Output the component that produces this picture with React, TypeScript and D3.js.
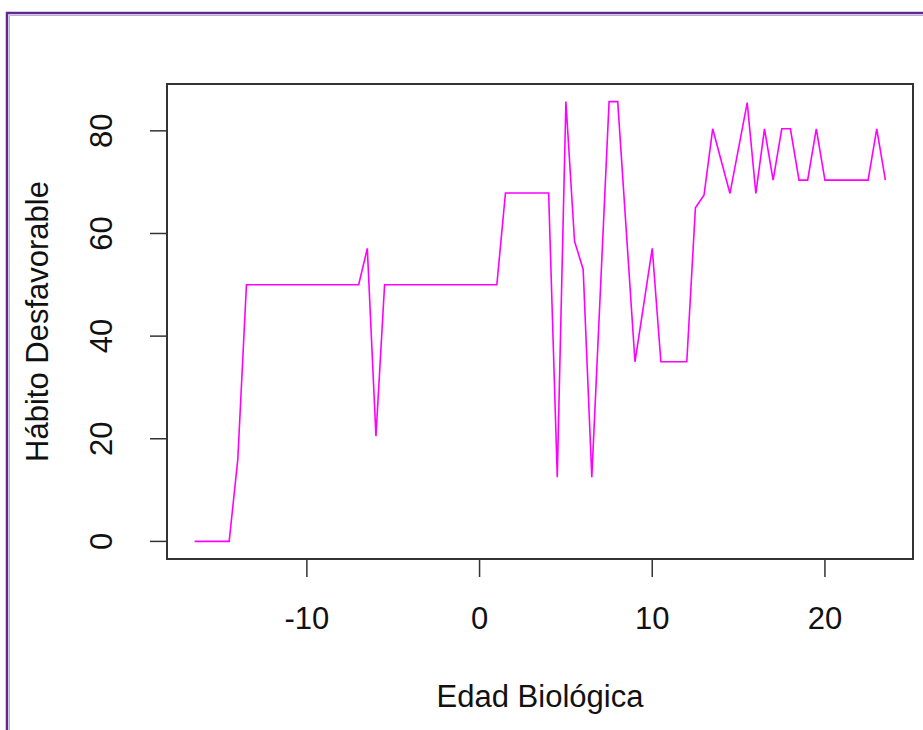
import React, { useEffect, useRef } from 'react';
import * as d3 from 'd3';

// Edad Biológica (x) vs Hábito Desfavorable (y)
const EDAD = [
  -16.5, -14.5, -14, -13.5, -7, -6.5, -6, -5.5, 1, 1.5, 4, 4.5, 5, 5.5, 6, 6.5,
  7.5, 8, 9, 10, 10.5, 12, 12.5, 13, 13.5, 14.5, 15.5, 16, 16.5, 17, 17.5, 18,
  18.5, 19, 19.5, 20, 22.5, 23, 23.5,
];
const HABITO = [
  0, 0, 16, 50, 50, 57.1, 20.5, 50, 50, 67.9, 67.9, 12.5, 85.7, 58.5, 53, 12.5,
  85.7, 85.7, 35, 57.1, 35, 35, 65, 67.5, 80.4, 67.8, 85.5, 67.8, 80.4, 70.4,
  80.4, 80.4, 70.4, 70.4, 80.4, 70.4, 70.4, 80.4, 70.4,
];
const X_TICKS = [-10, 0, 10, 20];
const Y_TICKS = [0, 20, 40, 60, 80];

const X_TITLE = 'Edad Biológica';
const Y_TITLE = 'Hábito Desfavorable';

const W = 923;
const H = 730;
const FONT = '"Liberation Sans", Arial, sans-serif';

export default function App() {
  const svgRef = useRef<SVGSVGElement | null>(null);

  useEffect(() => {
    const svgEl = svgRef.current;
    if (!svgEl) return;
    const svg = d3.select(svgEl);
    svg.selectAll('*').remove();

    const box = { left: 167, right: 913, top: 84, bottom: 559 };

    // R style: 4% padding on each side of the data range
    const [xmin, xmax] = d3.extent(EDAD) as [number, number];
    const [ymin, ymax] = d3.extent(HABITO) as [number, number];
    const xp = (xmax - xmin) * 0.04;
    const yp = (ymax - ymin) * 0.04;

    const x = d3.scaleLinear().domain([xmin - xp, xmax + xp]).range([box.left, box.right]);
    const y = d3.scaleLinear().domain([ymin - yp, ymax + yp]).range([box.bottom, box.top]);

    // background
    svg.append('rect').attr('width', W).attr('height', H).attr('fill', '#fff');

    // purple frame (top + left visible)
    svg.append('path')
      .attr('d', `M7,${H} V13 H${W}`)
      .attr('fill', 'none')
      .attr('stroke', '#5e2a8c')
      .attr('stroke-width', 2.5);
    svg.append('path')
      .attr('d', `M9.5,${H} V15.5 H${W}`)
      .attr('fill', 'none')
      .attr('stroke', '#c3a6de')
      .attr('stroke-width', 1);

    // data line
    const pts = EDAD.map((e, i) => [e, HABITO[i]] as [number, number]);
    const line = d3.line<[number, number]>().x(d => x(d[0])).y(d => y(d[1]));
    svg.append('path')
      .attr('d', line(pts))
      .attr('fill', 'none')
      .attr('stroke', '#ff00ff')
      .attr('stroke-width', 1.6)
      .attr('stroke-linejoin', 'miter');

    // plot box
    svg.append('rect')
      .attr('x', box.left)
      .attr('y', box.top)
      .attr('width', box.right - box.left)
      .attr('height', box.bottom - box.top)
      .attr('fill', 'none')
      .attr('stroke', '#333')
      .attr('stroke-width', 2);

    // x axis
    const xg = svg.append('g');
    xg.selectAll('line')
      .data(X_TICKS)
      .enter()
      .append('line')
      .attr('x1', d => x(d))
      .attr('x2', d => x(d))
      .attr('y1', box.bottom)
      .attr('y2', box.bottom + 18)
      .attr('stroke', '#333')
      .attr('stroke-width', 1.5);
    xg.selectAll('text')
      .data(X_TICKS)
      .enter()
      .append('text')
      .attr('x', d => x(d))
      .attr('y', 629)
      .attr('text-anchor', 'middle')
      .attr('font-family', FONT)
      .attr('font-size', 31)
      .attr('fill', '#111')
      .text(d => String(d));

    // y axis
    const yg = svg.append('g');
    yg.selectAll('line')
      .data(Y_TICKS)
      .enter()
      .append('line')
      .attr('x1', box.left)
      .attr('x2', box.left - 17)
      .attr('y1', d => y(d))
      .attr('y2', d => y(d))
      .attr('stroke', '#333')
      .attr('stroke-width', 1.5);
    yg.selectAll('text')
      .data(Y_TICKS)
      .enter()
      .append('text')
      .attr('transform', d => `translate(112,${y(d)}) rotate(-90)`)
      .attr('text-anchor', 'middle')
      .attr('font-family', FONT)
      .attr('font-size', 31)
      .attr('fill', '#111')
      .text(d => String(d));

    // titles
    svg.append('text')
      .attr('x', (box.left + box.right) / 2)
      .attr('y', 707)
      .attr('text-anchor', 'middle')
      .attr('font-family', FONT)
      .attr('font-size', 31)
      .attr('fill', '#111')
      .text(X_TITLE);
    svg.append('text')
      .attr('transform', `translate(48,${(box.top + box.bottom) / 2}) rotate(-90)`)
      .attr('text-anchor', 'middle')
      .attr('font-family', FONT)
      .attr('font-size', 31)
      .attr('fill', '#111')
      .text(Y_TITLE);
  }, []);

  return (
    <svg
      ref={svgRef}
      width={W}
      height={H}
      viewBox={`0 0 ${W} ${H}`}
      style={{ position: 'absolute', left: 0, top: 0, display: 'block' }}
    />
  );
}
